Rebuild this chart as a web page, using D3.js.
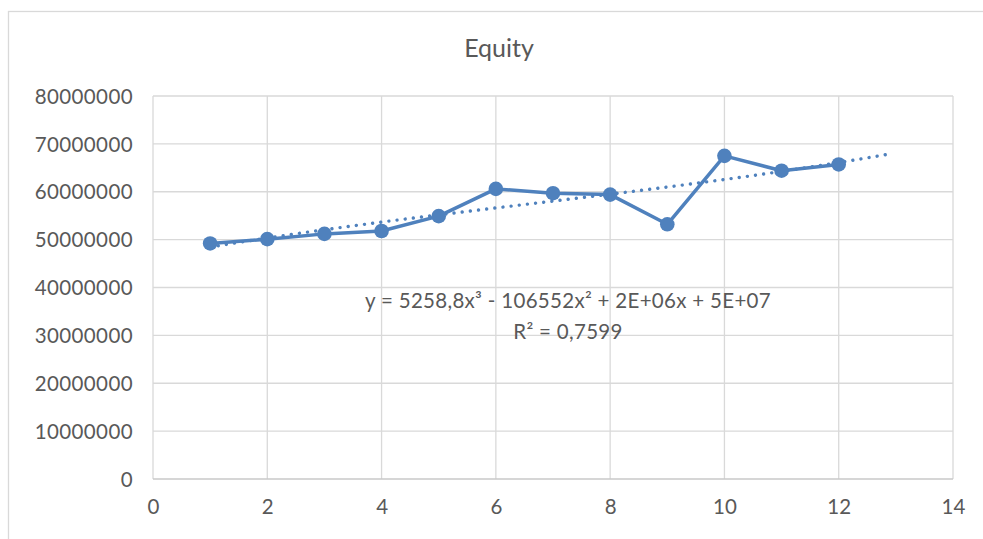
<!DOCTYPE html>
<html>
<head>
<meta charset="utf-8">
<script src="https://cdn.jsdelivr.net/npm/d3@7"></script>
<style>
  html, body { margin: 0; padding: 0; background: #fff; }
  svg { display: block; }
  text { font-family: Lato, "Open Sans", sans-serif; fill: #595959; }
</style>
</head>
<body>
<svg id="chart" width="983" height="539"></svg>
<script>
// Period number and equity value
const periods = [1, 2, 3, 4, 5, 6, 7, 8, 9, 10, 11, 12];
const equity = [49200000, 50100000, 51200000, 51800000, 54900000, 60600000,
                59700000, 59400000, 53200000, 67500000, 64400000, 65700000];

const xTicks = [0, 2, 4, 6, 8, 10, 12, 14];
const yTicks = [0, 10000000, 20000000, 30000000, 40000000, 50000000, 60000000, 70000000, 80000000];

const chartTitle = "Equity";
const equationText = "y = 5258,8x³ - 106552x² + 2E+06x + 5E+07";
const rSquaredText = "R² = 0,7599";
const forecastEnd = 12.9;

const blue = "#4f81bd";
const grid = "#d9d9d9";

const svg = d3.select("#chart");

// chart area outline
svg.append("rect")
  .attr("x", 8.5).attr("y", 11.5)
  .attr("width", 1000).attr("height", 600)
  .attr("fill", "#fff").attr("stroke", grid).attr("stroke-width", 1.3);

const plot = { left: 153, right: 953, top: 96, bottom: 479 };

const x = d3.scaleLinear().domain([0, 14]).range([plot.left, plot.right]);
const y = d3.scaleLinear().domain([0, 80000000]).range([plot.bottom, plot.top]);

// gridlines
svg.append("g").selectAll("line").data(yTicks.slice(1)).join("line")
  .attr("x1", plot.left).attr("x2", plot.right)
  .attr("y1", d => y(d)).attr("y2", d => y(d))
  .attr("stroke", grid).attr("stroke-width", 1.3);
svg.append("g").selectAll("line").data(xTicks).join("line")
  .attr("x1", d => x(d)).attr("x2", d => x(d))
  .attr("y1", plot.top).attr("y2", plot.bottom)
  .attr("stroke", grid).attr("stroke-width", 1.3);

// horizontal axis line
svg.append("line")
  .attr("x1", plot.left).attr("x2", plot.right)
  .attr("y1", y(0)).attr("y2", y(0))
  .attr("stroke", "#c8c8c8").attr("stroke-width", 1.5);

// axes (labels only)
const yAxis = d3.axisLeft(y).tickValues(yTicks).tickSize(0).tickPadding(20)
  .tickFormat(d3.format("d"));
svg.append("g").attr("transform", `translate(${plot.left},0)`).call(yAxis)
  .call(g => g.select(".domain").remove())
  .selectAll("text")
  .style("font-family", "Lato, sans-serif").style("font-size", "20.5px")
  .style("letter-spacing", "0.4px")
  .attr("fill", "#595959").attr("dy", "0.35em");

const xAxis = d3.axisBottom(x).tickValues(xTicks).tickSize(0).tickPadding(20);
svg.append("g").attr("transform", `translate(0,${plot.bottom})`).call(xAxis)
  .call(g => g.select(".domain").remove())
  .selectAll("text")
  .style("font-family", "Lato, sans-serif").style("font-size", "20.5px")
  .attr("fill", "#595959");

// title
svg.append("text")
  .attr("x", 499).attr("y", 57)
  .attr("text-anchor", "middle")
  .style("font-size", "25px")
  .text(chartTitle);

// cubic least-squares fit of equity over period
function polyFit(xs, ys, degree) {
  const n = degree + 1;
  const A = Array.from({ length: n }, () => new Array(n + 1).fill(0));
  for (let r = 0; r < n; r++) {
    for (let c = 0; c < n; c++) {
      A[r][c] = d3.sum(xs, v => Math.pow(v, r + c));
    }
    A[r][n] = d3.sum(xs, (v, i) => Math.pow(v, r) * ys[i]);
  }
  for (let i = 0; i < n; i++) {
    let piv = i;
    for (let k = i + 1; k < n; k++) if (Math.abs(A[k][i]) > Math.abs(A[piv][i])) piv = k;
    [A[i], A[piv]] = [A[piv], A[i]];
    for (let k = i + 1; k < n; k++) {
      const f = A[k][i] / A[i][i];
      for (let j = i; j <= n; j++) A[k][j] -= f * A[i][j];
    }
  }
  const coef = new Array(n).fill(0);
  for (let i = n - 1; i >= 0; i--) {
    let s = A[i][n];
    for (let j = i + 1; j < n; j++) s -= A[i][j] * coef[j];
    coef[i] = s / A[i][i];
  }
  return coef;
}
const coef = polyFit(periods, equity, 3);
const evalPoly = t => coef.reduce((s, c, i) => s + c * Math.pow(t, i), 0);
const trendX = d3.range(periods[0], forecastEnd + 1e-9, 0.05);

svg.append("path")
  .datum(trendX)
  .attr("fill", "none")
  .attr("stroke", blue)
  .attr("stroke-width", 3.4)
  .attr("stroke-linecap", "round")
  .attr("stroke-dasharray", "0.01 8.2")
  .attr("d", d3.line().x(d => x(d)).y(d => y(evalPoly(d))));

// equity series
const pts = periods.map((p, i) => [p, equity[i]]);
svg.append("path")
  .datum(pts)
  .attr("fill", "none")
  .attr("stroke", blue)
  .attr("stroke-width", 3.5)
  .attr("stroke-linejoin", "round")
  .attr("d", d3.line().x(d => x(d[0])).y(d => y(d[1])));

svg.append("g").selectAll("circle").data(pts).join("circle")
  .attr("cx", d => x(d[0])).attr("cy", d => y(d[1]))
  .attr("r", 7.3)
  .attr("fill", blue);

// trendline label
svg.append("text")
  .attr("x", 568).attr("y", 308)
  .attr("text-anchor", "middle")
  .style("font-size", "20.5px")
  .style("letter-spacing", "0.3px")
  .text(equationText);
svg.append("text")
  .attr("x", 568).attr("y", 339)
  .attr("text-anchor", "middle")
  .style("font-size", "20.5px")
  .style("letter-spacing", "0.3px")
  .text(rSquaredText);
</script>
</body>
</html>
